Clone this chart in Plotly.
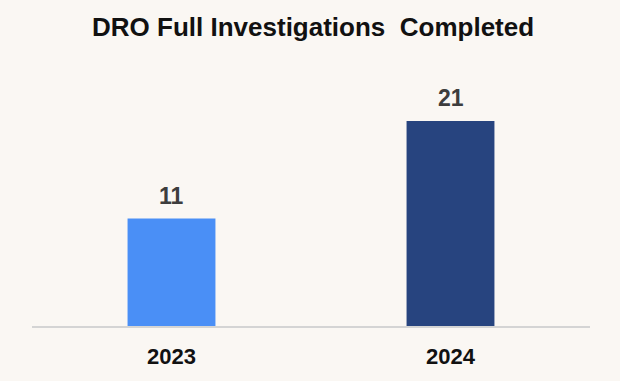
import plotly.graph_objects as go

years = ["2023", "2024"]
values = [11, 21]
colors = ["#4a8ff6", "#27447f"]

BG = "#faf7f3"
FONT = "Liberation Sans, Arial, sans-serif"

fig = go.Figure()
fig.add_trace(go.Bar(
    x=years, y=values,
    marker=dict(color=colors, line=dict(width=0)),
    hoverinfo="skip",
))

for i, v in enumerate(values):
    fig.add_annotation(
        x=i, y=v, text=f"<b>{v}</b>", showarrow=False,
        yanchor="bottom", yshift=8,
        font=dict(family=FONT, size=23, color="#3d3d3d"),
    )

fig.update_layout(
    width=620, height=381,
    margin=dict(l=32, r=30, t=80, b=55),
    paper_bgcolor=BG, plot_bgcolor=BG,
    bargap=0.685,
    showlegend=False,
    title=dict(
        text="<b>DRO Full Investigations  Completed</b>",
        x=0.505, xanchor="center", y=0.93, yanchor="middle",
        font=dict(family=FONT, size=26, color="#111111"),
    ),
    xaxis=dict(
        type="category", range=[-0.5, 1.5],
        showline=True, linecolor="#d4d4d4", linewidth=2,
        showgrid=False, zeroline=False,
        ticks="outside", ticklen=10, tickcolor="rgba(0,0,0,0)",
        tickfont=dict(family=FONT, size=22, color="#111111"),
        tickprefix="<b>", ticksuffix="</b>",
        fixedrange=True,
    ),
    yaxis=dict(
        range=[0, 25.2], visible=False, showgrid=False, zeroline=False,
        fixedrange=True,
    ),
)

fig.write_html("out.html")
